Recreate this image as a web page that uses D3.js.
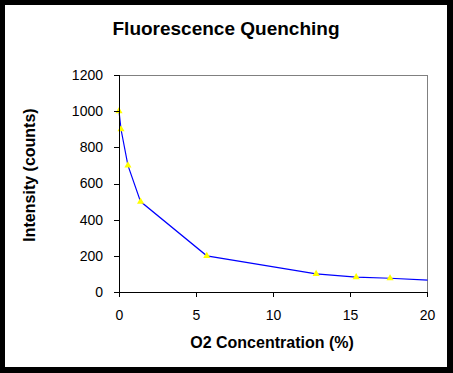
<!DOCTYPE html>
<html><head><meta charset="utf-8">
<script src="https://cdn.jsdelivr.net/npm/d3@7"></script>
<style>
html,body{margin:0;padding:0;background:#000;}
svg{display:block;}
text{font-family:"Liberation Sans",Arial,sans-serif;}
</style></head>
<body>
<script>
const o2Concentration = [0, 0.13, 0.58, 1.4, 5.7, 12.8, 15.4, 17.6, 21];
const intensity = [1000, 900, 700, 500, 200, 100, 82, 76, 61];
const xTicks = [0, 5, 10, 15, 20];
const yTicks = [0, 200, 400, 600, 800, 1000, 1200];
const titleText = "Fluorescence Quenching";
const xTitle = "O2 Concentration (%)";
const yTitle = "Intensity (counts)";

const W = 453, H = 373;
const svg = d3.select("body").append("svg").attr("width", W).attr("height", H);
svg.append("rect").attr("width", W).attr("height", H).attr("fill", "#000");
svg.append("rect").attr("x", 5).attr("y", 5).attr("width", 442).attr("height", 362).attr("fill", "#fff");

const x = d3.scaleLinear().domain([0, 20]).range([119, 427]);
const y = d3.scaleLinear().domain([0, 1200]).range([292, 75]);

svg.append("rect").attr("x", x(0)).attr("y", y(1200)).attr("width", x(20) - x(0)).attr("height", y(0) - y(1200))
  .attr("fill", "#fff").attr("stroke", "#808080").attr("stroke-width", 1).attr("shape-rendering", "crispEdges");

svg.append("clipPath").attr("id", "pc").append("rect")
  .attr("x", x(0) - 4).attr("y", y(1200) - 4).attr("width", x(20) - x(0) + 4.5).attr("height", y(0) - y(1200) + 8);

const pts = o2Concentration.map((v, i) => [v, intensity[i]]);
const g = svg.append("g").attr("clip-path", "url(#pc)");
g.append("path").datum(pts)
  .attr("d", d3.line().x(d => x(d[0])).y(d => y(d[1])))
  .attr("fill", "none").attr("stroke", "#0000ff").attr("stroke-width", 1.2);
g.selectAll(".m").data(pts).enter().append("path")
  .attr("transform", d => `translate(${x(d[0])},${y(d[1])})`)
  .attr("d", d3.symbol().type(d3.symbolTriangle).size(22))
  .attr("fill", "#ffff00");

const xAxis = svg.append("g").attr("transform", `translate(0,${y(0)})`)
  .call(d3.axisBottom(x).tickValues(xTicks).tickSize(5).tickPadding(13).tickFormat(d3.format("d")));
const yAxis = svg.append("g").attr("transform", `translate(${x(0)},0)`)
  .call(d3.axisLeft(y).tickValues(yTicks).tickSize(5).tickPadding(11).tickFormat(d3.format("d")));
[xAxis, yAxis].forEach(a => {
  a.selectAll("path").attr("stroke", "#000").attr("shape-rendering", "crispEdges");
  a.selectAll("line").attr("stroke", "#000").attr("shape-rendering", "crispEdges");
  a.selectAll("text").attr("fill", "#000").style("font-size", "14px").style("font-family", "Liberation Sans, Arial, sans-serif");
});
xAxis.select(".domain").attr("d", `M${x(0)},5V0H${x(20)}V5`);
yAxis.select(".domain").attr("d", `M-5,${y(1200)}H0V${y(0)}H-5`);

svg.append("text").attr("x", 226).attr("y", 35).attr("text-anchor", "middle")
  .style("font-size", "19px").style("font-weight", "bold").text(titleText);
svg.append("text").attr("x", 272).attr("y", 348).attr("text-anchor", "middle")
  .style("font-size", "16px").style("font-weight", "bold").text(xTitle);
svg.append("text").attr("transform", "translate(35,175) rotate(-90)").attr("text-anchor", "middle")
  .style("font-size", "16px").style("font-weight", "bold").text(yTitle);
</script>
</body></html>
